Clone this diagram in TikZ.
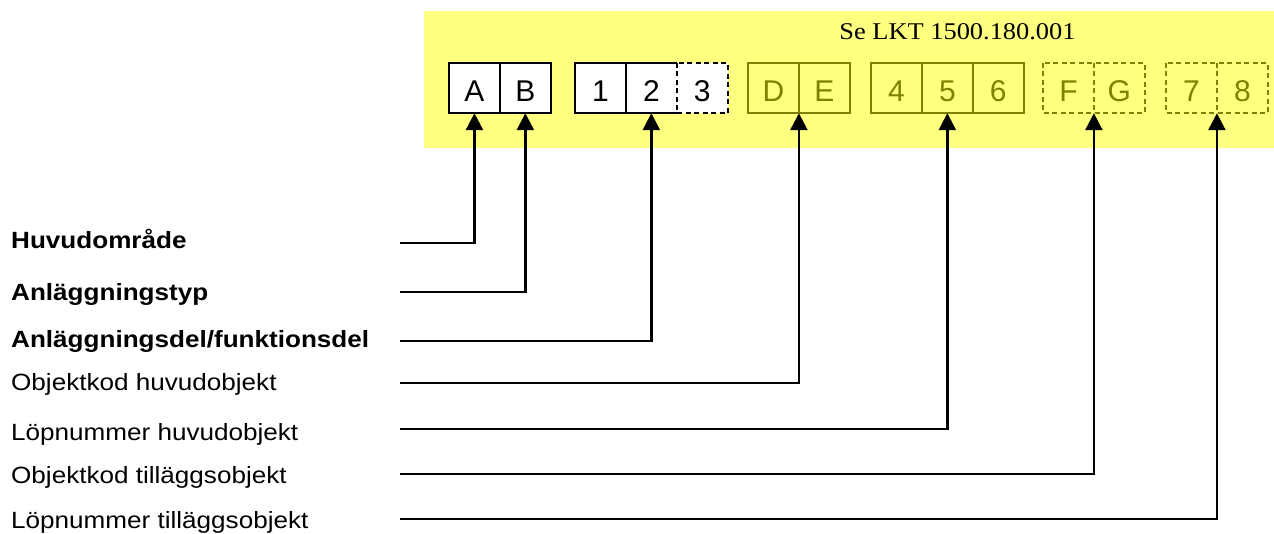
\documentclass[tikz,border=0pt]{standalone}
\usepackage{fontspec}
\setmainfont{Liberation Sans}
\newfontfamily\serifttl{Liberation Serif}
\usetikzlibrary{arrows.meta}
\definecolor{yel}{RGB}{255,255,128}
\definecolor{olv}{RGB}{128,128,0}
\begin{document}
\begin{tikzpicture}[x=1pt,y=-1pt,
 cell/.style={minimum width=50.5pt,minimum height=50pt,inner sep=0pt,text height=26pt,text depth=0pt,font=\fontsize{30}{31}\selectfont,anchor=west},
 wcell/.style={cell,fill=white,text=black},
 ocell/.style={cell,text=olv},
 sol/.style={line width=2.4pt,draw=black},
 osol/.style={line width=2.4pt,draw=olv},
 dsh/.style={dash pattern=on 5pt off 3.5pt},
 conn/.style={line width=2.6pt,line join=miter,-{Triangle[length=17pt,width=17pt]}},
 lbl/.style={anchor=base west,inner sep=0pt,font=\fontsize{23.5}{25}\selectfont},
]
\useasboundingbox (0,0) rectangle (1274,533);
\fill[yel] (424,11) rectangle (1274,148);
\node[font=\serifttl\fontsize{24}{26}\selectfont,anchor=base,inner sep=0pt] (ttl) at (957.5,39) {\scalebox{1.1}[1]{Se LKT 1500.180.001}};

% cells
\node[wcell] (cA) at (449,88) {A};
\node[wcell] (cB) at (cA.east) {B};
\node[wcell] (c1) at (575,88) {1};
\node[wcell] (c2) at (c1.east) {2};
\node[wcell] (c3) at (c2.east) {3};
\node[ocell] (cD) at (748,88) {D};
\node[ocell] (cE) at (cD.east) {E};
\node[ocell] (c4) at (871,88) {4};
\node[ocell] (c5) at (c4.east) {5};
\node[ocell] (c6) at (c5.east) {6};
\node[ocell] (cF) at (1043,88) {F};
\node[ocell] (cG) at (cF.east) {G};
\node[ocell] (c7) at (1166,88) {7};
\node[ocell] (c8) at (c7.east) {8};

% outlines
\draw[sol] (cA.north west) rectangle (cB.south east) (cA.north east) -- (cA.south east);
\draw[sol] (c2.north east) -- (c1.north west) -- (c1.south west) -- (c2.south east) (c1.north east) -- (c1.south east);
\draw[sol,dsh] (c2.north east) rectangle (c3.south east);
\draw[osol] (cD.north west) rectangle (cE.south east) (cD.north east) -- (cD.south east);
\draw[osol] (c4.north west) rectangle (c6.south east) (c4.north east) -- (c4.south east) (c5.north east) -- (c5.south east);
\draw[osol,dsh] (cF.north west) rectangle (cG.south east) (cF.north east) -- (cF.south east);
\draw[osol,dsh] (c7.north west) rectangle (c8.south east) (c7.north east) -- (c7.south east);

% labels
\node[lbl] (l1) at (11,248) {\scalebox{1.11}[1]{\bfseries Huvudområde}};
\node[lbl] (l2) at (11,300) {\scalebox{1.11}[1]{\bfseries Anläggningstyp}};
\node[lbl] (l3) at (11,347) {\scalebox{1.11}[1]{\bfseries Anläggningsdel/funktionsdel}};
\node[lbl] (l4) at (11,390) {\scalebox{1.11}[1]{Objektkod huvudobjekt}};
\node[lbl] (l5) at (11,440) {\scalebox{1.11}[1]{Löpnummer huvudobjekt}};
\node[lbl] (l6) at (11,483) {\scalebox{1.11}[1]{Objektkod tilläggsobjekt}};
\node[lbl] (l7) at (11,528) {\scalebox{1.11}[1]{Löpnummer tilläggsobjekt}};

% connector start points
\coordinate (s1) at (400,243);
\coordinate (s2) at (400,292);
\coordinate (s3) at (400,341);
\coordinate (s4) at (400,383);
\coordinate (s5) at (400,429);
\coordinate (s6) at (400,474);
\coordinate (s7) at (400,519);

\draw[conn] (s1) -| (cA.south);
\draw[conn] (s2) -| (cB.south);
\draw[conn] (s3) -| (c2.south);
\draw[conn] (s4) -| (cD.south east);
\draw[conn] (s5) -| (c5.south);
\draw[conn] (s6) -| (cF.south east);
\draw[conn] (s7) -| (c7.south east);
\end{tikzpicture}
\end{document}
